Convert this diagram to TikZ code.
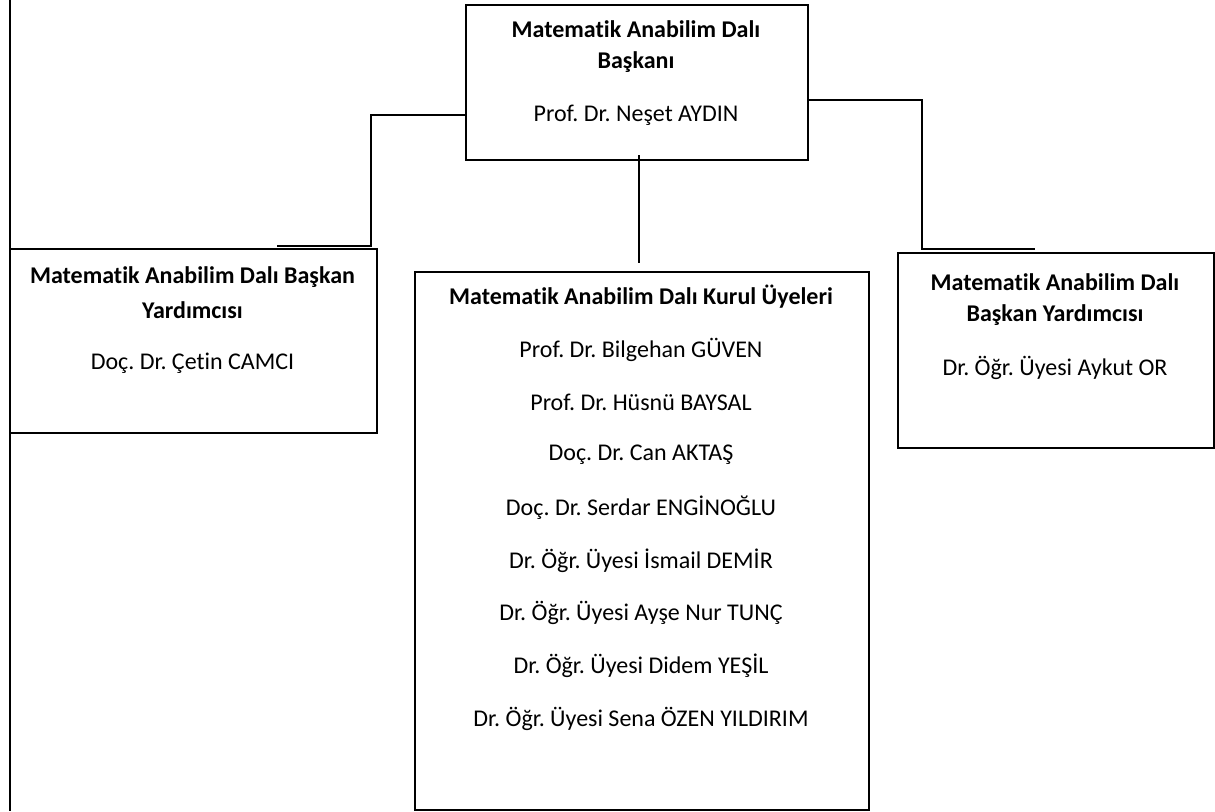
\documentclass[tikz,border=0pt]{standalone}
\usepackage{fontspec}
\setmainfont[Ligatures=NoCommon]{Carlito}
\frenchspacing
\begin{document}
\begin{tikzpicture}[x=1pt,y=-1pt,
  orgbox/.style={draw=black,line width=1.6pt,rectangle,inner sep=0pt,anchor=north west},
  headtxt/.style={font=\fontsize{24}{28}\selectfont\bfseries,inner sep=0pt},
  persontxt/.style={font=\fontsize{24}{28}\selectfont,inner sep=0pt},
  conn/.style={draw=black,line width=1.6pt}]
\useasboundingbox (0,0) rectangle (1215,811);

% boxes
\node[orgbox,minimum width=342pt,minimum height=155pt] (top) at (465,4) {};
\node[orgbox,minimum width=367pt,minimum height=184pt] (left) at (9,248) {};
\node[orgbox,minimum width=454pt,minimum height=538pt] (mid) at (414,271) {};
\node[orgbox,minimum width=316pt,minimum height=195pt] (right) at (897,252) {};

% top box texts
\node[headtxt] (t1) at (636,29) {Matematik Anabilim Dalı};
\node[headtxt] (t2) at (636,62) {Başkanı};
\node[persontxt] (t3) at (636,115) {Prof. Dr. Neşet AYDIN};

% left box texts
\node[headtxt] (l1) at (192.5,277) {Matematik Anabilim Dalı Başkan};
\node[headtxt] (l2) at (192.5,310) {Yardımcısı};
\node[persontxt] (l3) at (192.5,363) {Doç. Dr. Çetin CAMCI};

% right box texts
\node[headtxt] (r1) at (1055,282) {Matematik Anabilim Dalı};
\node[headtxt] (r2) at (1055,315) {Başkan Yardımcısı};
\node[persontxt] (r3) at (1055,368) {Dr. Öğr. Üyesi Aykut OR};

% middle box texts
\node[headtxt] (m0) at (641,297) {Matematik Anabilim Dalı Kurul Üyeleri};
\node[persontxt] (m1) at (641,349.5) {Prof. Dr. Bilgehan GÜVEN};
\node[persontxt] (m2) at (641,402) {Prof. Dr. Hüsnü BAYSAL};
\node[persontxt] (m3) at (641,455) {Doç. Dr. Can AKTAŞ};
\node[persontxt] (m4) at (641,508) {Doç. Dr. Serdar ENGİNOĞLU};
\node[persontxt] (m5) at (641,561) {Dr. Öğr. Üyesi İsmail DEMİR};
\node[persontxt] (m6) at (641,613) {Dr. Öğr. Üyesi Ayşe Nur TUNÇ};
\node[persontxt] (m7) at (641,666) {Dr. Öğr. Üyesi Didem YEŞİL};
\node[persontxt] (m8) at (641,719) {Dr. Öğr. Üyesi Sena ÖZEN YILDIRIM};

% connector end points
\coordinate (lend) at (277,246);
\coordinate (rend) at (1035,249);
\coordinate (mstart) at (639,155);
\coordinate (mend) at (639,263);
\coordinate (ftop) at (10,0);
\coordinate (fbot) at (10,811);

% connectors
\draw[conn] (top.west |- 0,115) -- (371,115) |- (lend);
\draw[conn] (top.east |- 0,100) -- (922,100) |- (rend);
\draw[conn] (mstart) -- (mend);
\draw[conn] (ftop) -- (fbot);
\end{tikzpicture}
\end{document}
